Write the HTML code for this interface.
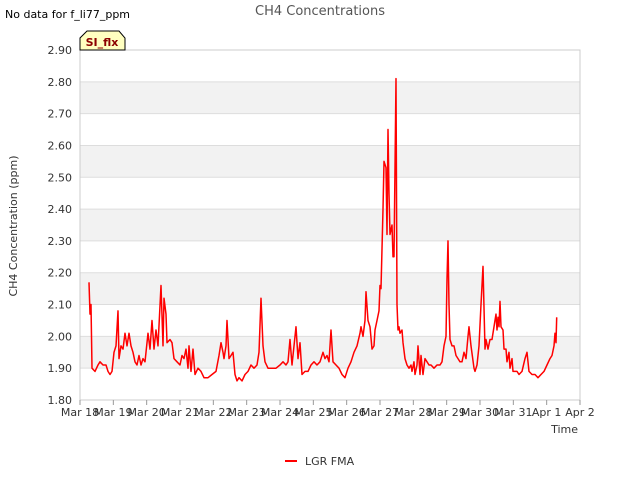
<!DOCTYPE html>
<html><head><meta charset="utf-8"><style>
body{margin:0;background:#fff;font-family:"Liberation Sans","DejaVu Sans",sans-serif}
</style></head><body>
<svg width="640" height="480" xmlns="http://www.w3.org/2000/svg" font-family="DejaVu Sans, Liberation Sans, sans-serif">
<text x="5" y="18" font-size="11" fill="#000">No data for f_li77_ppm</text>
<text x="320" y="15" font-size="13" fill="#555" text-anchor="middle">CH4 Concentrations</text>
<g id="bands"></g>
<g id="grid"></g>
<rect x="80" y="50" width="500" height="350" fill="none" stroke="#ccc"/>
<g id="yt"></g><g id="xt"></g>
<path id="series" fill="none" stroke="#ff0000" stroke-width="1.5" stroke-linejoin="round"/>
<g>
<path d="M80,50 L80,38 L87,31 L119,31 L125,38 L125,50 Z" fill="#ffffc0" stroke="#000" stroke-width="1"/>
<text x="102" y="46" font-size="11" font-weight="bold" fill="#8b0000" text-anchor="middle">SI_flx</text>
</g>
<text transform="translate(17,226) rotate(-90)" font-size="11" fill="#333" text-anchor="middle">CH4 Concentration (ppm)</text>
<text x="578" y="433" font-size="11" fill="#333" text-anchor="end">Time</text>
<g>
<line x1="285" y1="461" x2="297" y2="461" stroke="#ff0000" stroke-width="2"/>
<text x="305" y="465" font-size="11" fill="#333">LGR FMA</text>
</g>
</svg>
<script>
const xLabels=["Mar 18","Mar 19","Mar 20","Mar 21","Mar 22","Mar 23","Mar 24","Mar 25","Mar 26","Mar 27","Mar 28","Mar 29","Mar 30","Mar 31","Apr 1","Apr 2"];
const yTicks=[1.8,1.9,2.0,2.1,2.2,2.3,2.4,2.5,2.6,2.7,2.8,2.9];
const days=[0.27,0.30,0.33,0.36,0.45,0.54,0.60,0.69,0.78,0.84,0.90,0.96,1.02,1.08,1.14,1.17,1.23,1.29,1.35,1.41,1.47,1.53,1.59,1.65,1.71,1.77,1.83,1.89,1.95,2.04,2.10,2.16,2.22,2.28,2.34,2.43,2.49,2.52,2.58,2.61,2.70,2.76,2.82,2.91,3.00,3.06,3.12,3.18,3.24,3.27,3.33,3.39,3.45,3.54,3.63,3.72,3.84,3.96,4.08,4.17,4.23,4.29,4.32,4.38,4.41,4.47,4.53,4.59,4.65,4.71,4.77,4.86,4.95,5.04,5.13,5.22,5.31,5.37,5.43,5.49,5.55,5.64,5.76,5.88,6.00,6.09,6.18,6.24,6.30,6.36,6.42,6.48,6.54,6.60,6.66,6.75,6.84,6.93,7.02,7.11,7.20,7.29,7.35,7.41,7.47,7.53,7.59,7.68,7.77,7.86,7.95,8.04,8.13,8.22,8.31,8.40,8.43,8.49,8.55,8.58,8.64,8.70,8.76,8.82,8.85,8.91,8.97,9.00,9.03,9.09,9.12,9.18,9.21,9.24,9.27,9.30,9.36,9.39,9.42,9.48,9.51,9.54,9.57,9.60,9.66,9.69,9.75,9.81,9.87,9.93,9.96,10.02,10.05,10.11,10.14,10.20,10.23,10.29,10.35,10.41,10.47,10.53,10.62,10.71,10.80,10.86,10.92,10.98,11.01,11.04,11.07,11.10,11.16,11.22,11.28,11.34,11.40,11.46,11.52,11.58,11.64,11.67,11.73,11.82,11.85,11.91,11.97,12.03,12.09,12.15,12.18,12.24,12.30,12.36,12.42,12.48,12.51,12.54,12.57,12.60,12.63,12.69,12.72,12.78,12.81,12.87,12.90,12.96,12.99,13.05,13.11,13.17,13.26,13.35,13.41,13.47,13.56,13.65,13.74,13.83,13.92,14.01,14.10,14.16,14.22,14.25,14.28,14.30];
const values=[2.17,2.07,2.10,1.90,1.89,1.91,1.92,1.91,1.91,1.89,1.88,1.89,1.95,1.97,2.08,1.93,1.97,1.96,2.01,1.97,2.01,1.97,1.95,1.92,1.91,1.94,1.91,1.93,1.92,2.01,1.96,2.05,1.96,2.02,1.97,2.16,1.97,2.12,2.07,1.98,1.99,1.98,1.93,1.92,1.91,1.94,1.93,1.96,1.90,1.97,1.89,1.96,1.88,1.90,1.89,1.87,1.87,1.88,1.89,1.94,1.98,1.95,1.93,1.97,2.05,1.93,1.94,1.95,1.88,1.86,1.87,1.86,1.88,1.89,1.91,1.90,1.91,1.95,2.12,1.97,1.92,1.90,1.90,1.90,1.91,1.92,1.91,1.92,1.99,1.91,1.97,2.03,1.93,1.98,1.88,1.89,1.89,1.91,1.92,1.91,1.92,1.95,1.93,1.94,1.92,2.02,1.92,1.91,1.90,1.88,1.87,1.90,1.92,1.95,1.97,2.01,2.03,2.00,2.05,2.14,2.05,2.03,1.96,1.97,2.02,2.05,2.08,2.16,2.15,2.40,2.55,2.53,2.32,2.65,2.45,2.32,2.35,2.25,2.25,2.81,2.10,2.02,2.03,2.01,2.02,1.98,1.93,1.91,1.90,1.91,1.89,1.92,1.88,1.91,1.97,1.88,1.94,1.88,1.93,1.92,1.91,1.91,1.90,1.91,1.91,1.92,1.97,2.00,2.18,2.30,2.10,1.99,1.97,1.97,1.94,1.93,1.92,1.92,1.95,1.93,2.00,2.03,1.97,1.90,1.89,1.91,1.97,2.10,2.22,1.96,1.99,1.96,1.99,1.99,2.03,2.07,2.02,2.06,2.03,2.11,2.03,2.02,1.96,1.96,1.92,1.95,1.90,1.93,1.89,1.89,1.89,1.88,1.89,1.93,1.95,1.89,1.88,1.88,1.87,1.88,1.89,1.91,1.93,1.94,1.97,2.01,1.98,2.06];
const NS="http://www.w3.org/2000/svg";
const X=d=>80+d*(500/15);
const Y=v=>400-(v-1.8)*(350/1.1);
function mk(t,a){const e=document.createElementNS(NS,t);for(const k in a)e.setAttribute(k,a[k]);return e;}
const bands=document.getElementById('bands');
[1.9,2.1,2.3,2.5,2.7].forEach(b=>{
 const r=mk('rect',{x:80,y:Y(b+0.1),width:500,height:Y(b)-Y(b+0.1),fill:'#f2f2f2'});
 
 
 bands.appendChild(r);});
const grid=document.getElementById('grid'),yt=document.getElementById('yt'),xt=document.getElementById('xt');
yTicks.forEach(v=>{
 const l=mk('line',{x1:80,x2:580,y1:Y(v),y2:Y(v),stroke:'#ddd'});
 
 
 grid.appendChild(l);
 const t=mk('text',{x:72,y:Y(v)+4,'font-size':11,fill:'#333','text-anchor':'end'});
 t.textContent=v.toFixed(2);
 
 
 yt.appendChild(t);});
xLabels.forEach((s,i)=>{
 const l=mk('line',{x1:X(i),x2:X(i),y1:400,y2:405,stroke:'#999'});
 
 
 xt.appendChild(l);
 const t=mk('text',{x:X(i),y:416,'font-size':11,fill:'#333','text-anchor':'middle'});
 t.textContent=s;
 
 
 xt.appendChild(t);});
document.getElementById('series').setAttribute('d',days.map((d,i)=>(i?'L':'M')+X(d).toFixed(1)+','+Y(values[i]).toFixed(1)).join(''));
</script>
</body></html>
